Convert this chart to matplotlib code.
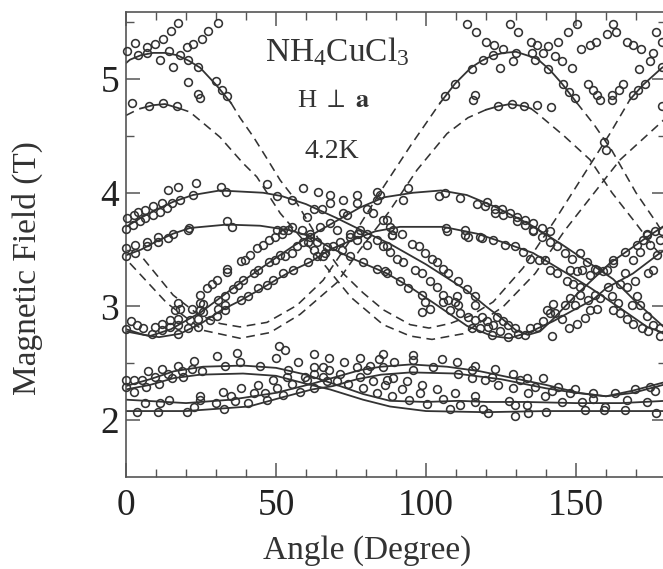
"""
Redraw of the NH4CuCl3 resonance field plot, magnetic field against angle.
Values are read off the picture by eye.
"""
import matplotlib

matplotlib.use("Agg")
import matplotlib.pyplot as plt

INK = "#333333"

# Measured points, (angle, field)
top_points = [
    (0.2, 5.25), (3, 5.32), (6.9, 5.28), (9.7, 5.31), (12.2, 5.35), (15, 5.42), (17.4, 5.49), (4.1, 5.21),
    (6.9, 5.23), (11.3, 5.17), (14.4, 5.25), (18, 5.21), (20.2, 5.28), (22.4, 5.31), (25.2, 5.35), (27.4, 5.42),
    (30.8, 5.49), (15.6, 5.11), (20.6, 5.17), (24.1, 5.11), (20.6, 4.97), (24.1, 4.87), (24.7, 4.83), (30, 4.98),
    (31.9, 4.90), (33.6, 4.85), (1.9, 4.79), (7.5, 4.76), (12.2, 4.79), (16.9, 4.76),
    (113.6, 5.48), (116.7, 5.41), (120, 5.33), (122.8, 5.30), (125.6, 5.26), (122.2, 5.21), (119.1, 5.17),
    (115.2, 5.09), (109.7, 4.96), (106.3, 4.85), (116.3, 4.86), (115.8, 4.82), (124.7, 5.10), (128.9, 5.16),
    (130, 5.23), (128, 5.48), (130.8, 5.41), (134.9, 5.33), (137.1, 5.30), (135.2, 5.23), (138.9, 5.23),
    (140.8, 5.29), (143.9, 5.33), (147.2, 5.41), (150.2, 5.48), (143, 5.20), (145.2, 5.16), (136.3, 5.17),
    (140.8, 5.09), (148.8, 5.10), (145.6, 4.96), (147.8, 4.89), (149.5, 4.83), (151.7, 5.26), (154.5, 5.30),
    (156.6, 5.33), (160.2, 5.40), (162.4, 5.48), (163.3, 5.41), (166.9, 5.33), (169.1, 5.30), (171.7, 5.26),
    (153.9, 4.96), (155.8, 4.90), (156.9, 4.86), (158, 4.82), (161.9, 4.86), (161.9, 4.82), (164.4, 4.90),
    (165.6, 4.96), (171.1, 5.09), (169.1, 4.86), (170.8, 4.90), (173, 4.96), (174.7, 5.16), (175.8, 5.23),
    (176.7, 5.41), (178.6, 5.33), (178.6, 5.11), (178.6, 4.76), (159.3, 4.45), (160, 4.38),
    (123.9, 4.76), (128.6, 4.78), (132.7, 4.76), (137.1, 4.77), (141.7, 4.75),
]

middle_points = [
    (46.9, 4.08), (50.2, 3.97), (55.2, 3.94), (58.9, 4.04), (64.1, 4.01), (68, 3.98), (72.4, 3.94), (77.1, 3.98),
    (83.6, 4.01), (94.1, 4.04), (92.4, 3.94), (104.4, 3.97), (106.3, 4.0), (111.3, 3.95), (84.7, 3.98), (106.7, 3.69),
    (0.2, 3.78), (2.5, 3.80), (4.1, 3.83), (6.3, 3.85), (9.1, 3.88), (11.9, 3.91), (14.1, 4.02), (17.4, 4.05),
    (18, 3.94), (22.4, 3.98), (23.2, 4.09), (31.7, 4.05), (33.3, 4.01), (0, 3.68), (2.2, 3.72), (4.7, 3.75),
    (6.3, 3.78), (9.1, 3.80), (11.3, 3.83), (13.6, 3.87), (15.2, 3.91),
    (0, 3.51), (0, 3.44), (3, 3.54), (3, 3.47), (6.9, 3.57), (6.9, 3.53), (10.8, 3.61), (10.8, 3.57), (14.1, 3.6),
    (15.8, 3.64), (20.8, 3.67), (33.6, 3.75), (35.2, 3.70), (21, 3.69),
    (58.6, 3.67), (60.2, 3.79), (62.5, 3.86), (65.2, 3.86), (68, 3.91), (72.4, 3.82), (73.6, 3.8), (76.9, 3.91),
    (80.2, 3.86), (83.6, 3.94), (82.4, 3.82), (86.9, 3.76), (50.2, 3.67), (52.4, 3.67), (55.2, 3.7), (61.3, 3.64),
    (64.7, 3.7), (68, 3.73), (70.2, 3.67), (74.7, 3.64), (78, 3.67), (80.2, 3.64),
    (116.9, 3.9), (119.7, 3.88), (120.2, 3.92), (123, 3.86), (123, 3.82), (125.2, 3.86), (125.8, 3.8), (128, 3.82),
    (130.2, 3.79), (130.2, 3.75), (133, 3.76), (133, 3.72), (135.8, 3.73), (135.8, 3.67), (138.6, 3.69),
    (141.3, 3.66), (113, 3.67), (114.1, 3.61), (118, 3.61), (173.6, 3.63), (176.3, 3.66),
    (88, 3.7), (85.8, 3.76), (89.1, 3.67), (91.9, 3.64), (88.6, 3.63),
]

rising_points = [
    (0, 2.8), (1.6, 2.87), (3.6, 2.84), (5.8, 2.81), (8.6, 2.76), (9.7, 2.82), (11.9, 2.85), (11.9, 2.79),
    (14.7, 2.88), (14.7, 2.82), (17.4, 2.76), (17.4, 2.84), (17.4, 2.89), (16.3, 2.97), (17.4, 3.03), (18, 2.98),
    (20.8, 2.81), (21.3, 2.88), (21.9, 2.98), (24.1, 2.82), (24.1, 2.89), (24.7, 2.97), (24.7, 3.03), (25.8, 3.02),
    (24.7, 3.1), (25.8, 2.95), (28, 2.88), (30.2, 2.92), (30.8, 3.06), (33, 3.09), (30.8, 2.98), (33, 3.01), (33, 2.97),
    (26.9, 3.16), (28.6, 3.2), (30.2, 3.23), (33.6, 3.3), (33.6, 3.33), (38.2, 3.4), (39.7, 3.41), (41.3, 3.45),
    (43.6, 3.51), (45.8, 3.54), (47.8, 3.58), (49.7, 3.61), (51.9, 3.64), (54.1, 3.67),
    (35.8, 3.15), (37.4, 3.19), (39.1, 3.23), (42.5, 3.29), (44.1, 3.32), (47.5, 3.39), (49.7, 3.41), (51.4, 3.45),
    (53, 3.44), (55.2, 3.47), (56.9, 3.53), (59.1, 3.57), (61.3, 3.61),
    (38.2, 3.06), (40.8, 3.09), (44.1, 3.16), (46.9, 3.19), (49.1, 3.23), (52.4, 3.29), (55.8, 3.32), (60.8, 3.39),
    (63.6, 3.44), (66.3, 3.47), (69.1, 3.53), (71.3, 3.57), (74.7, 3.61), (77.4, 3.64),
    (134.7, 2.81), (136.9, 2.82), (139.1, 2.87), (140.2, 2.97), (142.4, 3.02), (141.3, 2.94), (143, 2.94),
    (141.9, 2.74), (145.2, 2.89), (147.5, 2.81), (150.2, 2.85), (148, 3.07), (146.3, 3.01), (149.7, 3.01),
    (151.3, 3.1), (153, 2.9), (154.7, 2.97), (156.9, 2.98), (154.1, 3.06), (156.3, 3.1), (158, 3.07),
    (146.9, 3.22), (149.1, 3.2), (151.3, 3.17), (150.2, 3.31), (151.9, 3.32), (154.7, 3.28), (156.9, 3.32),
    (159.1, 3.31), (160.8, 3.17), (160.2, 3.32), (162.4, 3.38), (166.3, 3.29), (169.7, 3.22), (164.7, 3.2),
    (166.9, 3.17), (162.4, 3.41), (166.3, 3.48), (169.1, 3.41), (171.3, 3.48), (170.2, 3.54), (172.4, 3.58),
    (174.7, 3.54), (175.8, 3.32), (174.1, 3.29), (176.9, 3.45), (173.6, 3.64), (178, 3.58), (178.6, 3.66),
]

falling_points = [
    (63.6, 3.57), (66.9, 3.52), (71.9, 3.5), (74.7, 3.44), (79.1, 3.39), (83.6, 3.33), (86.9, 3.29), (62.5, 3.5),
    (65.8, 3.44), (60.8, 3.57), (77, 3.58), (80.2, 3.54), (83.6, 3.58), (86.9, 3.53),
    (88.6, 3.63), (95.2, 3.55), (97.5, 3.53), (99.7, 3.47), (101.9, 3.42), (103.6, 3.39), (105.8, 3.33), (107.4, 3.29),
    (110.8, 3.22), (113.6, 3.15), (116.3, 3.09), (116.3, 3.01),
    (85.8, 3.53), (88, 3.48), (90.2, 3.42), (92.4, 3.39), (96.3, 3.32), (98.6, 3.29), (101.3, 3.22), (103.6, 3.17),
    (105.8, 3.1), (107.4, 3.06), (110.2, 3.09), (110.8, 3.01), (105.8, 3.04), (109.7, 3.04),
    (86.3, 3.31), (91.3, 3.22), (94.1, 3.16), (98.6, 3.1), (99.7, 3.04), (101.3, 2.98), (98.6, 2.95), (108, 2.97),
    (111.3, 2.94), (114.1, 2.91), (116.3, 2.88), (118.6, 2.91), (120.2, 2.87), (123.6, 2.91), (125.8, 2.87),
    (127.4, 2.84), (129.7, 2.81), (115.2, 2.81), (118, 2.81), (120.8, 2.82), (122.4, 2.84), (121.9, 2.75),
    (124.7, 2.78), (127.4, 2.73), (133, 2.75), (130.8, 2.76),
    (118.6, 3.6), (122.4, 3.58), (126.3, 3.54), (129.7, 3.53), (132.4, 3.48), (134.7, 3.42), (137.5, 3.41),
    (139.7, 3.41), (141.3, 3.32), (143.6, 3.29), (135.8, 3.66), (138.6, 3.61), (141.3, 3.57), (143.6, 3.53),
    (146.3, 3.47), (148.6, 3.42), (151.3, 3.47), (153.6, 3.39), (156.3, 3.33), (148, 3.32), (113, 3.63), (106.9, 3.66),
    (161.9, 3.09), (164.1, 3.03), (162.4, 2.97), (164.7, 2.94), (166.9, 2.89), (169.1, 2.85), (171.9, 2.81),
    (174.1, 2.78), (178, 2.74), (170.2, 3.09), (171.3, 3.01), (168.6, 3.01), (173.6, 2.92), (175.8, 2.84), (178, 2.81),
]

low_points = [
    (0, 2.35), (0, 2.29), (2.7, 2.25), (2.5, 2.35), (5.2, 2.35), (6.7, 2.29), (7.4, 2.43), (9.7, 2.38), (11.1, 2.32),
    (11.9, 2.45), (14.1, 2.41), (15.2, 2.37), (17.4, 2.48), (18.6, 2.43), (18.9, 2.38), (22.7, 2.52), (21.9, 2.45),
    (25.2, 2.43), (30.2, 2.56), (33, 2.48), (36.9, 2.59), (38, 2.51), (44.7, 2.48), (50, 2.55), (51.1, 2.65),
    (53, 2.62), (57.2, 2.51), (62.7, 2.58), (67.7, 2.55), (72.8, 2.51), (78, 2.55), (84.4, 2.54), (85.8, 2.58),
    (54.1, 2.44), (53.6, 2.38), (55.2, 2.32), (49.1, 2.35), (50.2, 2.28), (52.4, 2.22), (58, 2.25), (62.7, 2.28),
    (59.7, 2.38), (62.5, 2.47), (65.8, 2.47), (67.5, 2.44), (62.5, 2.41), (65.8, 2.38), (60.2, 2.35), (71.3, 2.41),
    (66.9, 2.34), (70.2, 2.34), (74.1, 2.32), (78, 2.38), (76.9, 2.47), (81.3, 2.48), (80.2, 2.44), (82.4, 2.34),
    (79.1, 2.28), (83.6, 2.24), (86.9, 2.35), (85.8, 2.47),
    (3.8, 2.07), (6.3, 2.15), (11.3, 2.15), (10.8, 2.07), (14.4, 2.18), (20.4, 2.07), (22.7, 2.12), (24.7, 2.21),
    (24.7, 2.18), (30, 2.15), (32.8, 2.1), (32.2, 2.25), (34.9, 2.21), (36.4, 2.17), (38.4, 2.28), (40.8, 2.15),
    (42.5, 2.24), (44.1, 2.31), (46.3, 2.24), (46.9, 2.18),
    (95.8, 2.57), (95.8, 2.53), (89.3, 2.51), (105.4, 2.54), (110.2, 2.51), (102.4, 2.47), (95.8, 2.44), (89.1, 2.37),
    (116.3, 2.48), (115.2, 2.44), (115.2, 2.37), (110.8, 2.41), (123, 2.45), (121.9, 2.38), (119.7, 2.35),
    (129.1, 2.41), (133.6, 2.37), (131.3, 2.35), (138.9, 2.37), (124.1, 2.31), (129.1, 2.28), (133.9, 2.24),
    (136.3, 2.29), (141.9, 2.26), (144.1, 2.29), (139.7, 2.21), (149.7, 2.27), (148, 2.24), (145.2, 2.16),
    (155.8, 2.24), (155.8, 2.19), (151.9, 2.16), (153, 2.09), (159.7, 2.12), (159.3, 2.09), (163, 2.24),
    (166.9, 2.18), (166.3, 2.09), (169.7, 2.27), (173.6, 2.16), (174.7, 2.29), (176.3, 2.26), (176.7, 2.06),
    (86.3, 2.31), (93.6, 2.34), (91.9, 2.27), (98.6, 2.31), (98, 2.24), (103.6, 2.27), (109.7, 2.24), (105.8, 2.19),
    (108, 2.1), (111.3, 2.13), (116.3, 2.21), (116.3, 2.16), (119.1, 2.1), (120.8, 2.06), (88.6, 2.21), (94.4, 2.18),
    (100.2, 2.14), (127.8, 2.17), (129.7, 2.13), (129.7, 2.04), (133.6, 2.13), (134.1, 2.06), (139.9, 2.07),
]

# Theory curves, solid where they were fitted
solid_curves = [
    [(0, 5.14), (1.3, 5.17), (5, 5.21), (9, 5.23), (13, 5.23), (17, 5.21), (21, 5.16), (24.7, 5.10), (30, 4.95), (35, 4.79)],
    [(104.7, 4.79), (109.7, 4.96), (115, 5.10), (118.5, 5.16), (122.4, 5.21), (126, 5.23), (130, 5.24), (137, 5.18),
     (141.3, 5.08), (145.3, 4.96), (150.3, 4.79)],
    [(168, 4.82), (172.4, 4.95), (178.7, 5.1), (180, 5.12)],
    [(4.7, 4.74), (9, 4.77), (13, 4.78), (18, 4.74)],
    [(120, 4.73), (124, 4.76), (128, 4.78), (133, 4.76), (135, 4.74)],
    # rising towards the 3.7 T maximum, then falling to the next minimum
    [(0, 2.8), (6, 2.75), (11, 2.73), (18, 2.76), (25, 2.85), (32, 2.97), (38, 3.05), (44.7, 3.15), (50.4, 3.24),
     (55.7, 3.32), (61.4, 3.39), (68, 3.5), (75, 3.58), (83, 3.66), (91.3, 3.7), (105.7, 3.7), (117, 3.64), (125, 3.57),
     (135.7, 3.47), (147, 3.29), (155, 3.16), (165, 2.98), (173.7, 2.82), (180, 2.76)],
    # rising towards the 4.0 T maximum, then falling
    [(0, 2.78), (8, 2.74), (15, 2.8), (25, 2.95), (35.6, 3.16), (43.6, 3.31), (49, 3.41), (55.7, 3.53), (62, 3.63),
     (70, 3.75), (78, 3.87), (86, 3.96), (95.7, 4.0), (105, 4.02), (113.6, 3.98), (123.6, 3.87), (134.7, 3.72),
     (145, 3.55), (155.7, 3.36), (162.4, 3.24), (170, 3.04), (178, 2.85), (180, 2.8)],
    # 3.7 T maximum on the left, through the minimum at 128, rising again
    [(0, 3.45), (5, 3.5), (10, 3.57), (15.7, 3.64), (21.3, 3.69), (33.6, 3.72), (44.7, 3.71), (54.7, 3.67), (61, 3.62),
     (68, 3.52), (74.7, 3.43), (87, 3.29), (94.7, 3.17), (103.7, 3.01), (113.6, 2.83), (122, 2.74), (127.8, 2.72),
     (135, 2.78), (142.4, 2.87), (150, 2.98), (155.7, 3.06), (160, 3.16), (169, 3.29), (178, 3.47), (180, 3.5)],
    # 4.0 T maximum on the left, through the minimum, rising again
    [(0, 3.7), (5, 3.78), (10, 3.85), (15.7, 3.92), (22.3, 3.98), (31.3, 4.02), (45.7, 4.0), (52, 3.97), (60, 3.9),
     (70, 3.78), (80, 3.65), (88, 3.55), (100, 3.37), (113.6, 3.14), (120, 3.0), (125, 2.9), (130, 2.79), (134, 2.75),
     (138, 2.78), (142, 2.88), (150, 3.1), (161.3, 3.38), (173.7, 3.61), (180, 3.72)],
    # low field group
    [(0, 2.3), (8, 2.36), (16, 2.43), (25.7, 2.47), (39, 2.48), (50, 2.46), (60, 2.4), (68, 2.33), (79, 2.23), (88, 2.17),
     (100, 2.16), (111, 2.17), (120, 2.16), (133, 2.16), (150, 2.15), (165, 2.15), (180, 2.17)],
    [(0, 2.27), (8, 2.31), (16, 2.37), (24.7, 2.40), (39, 2.41), (50, 2.39), (60, 2.32), (68, 2.27), (79, 2.18), (88, 2.12),
     (100, 2.08), (120, 2.07), (140, 2.08), (173.7, 2.08), (180, 2.08)],
    [(0, 2.08), (20, 2.08), (41, 2.12), (52, 2.2), (62, 2.27), (69, 2.3), (77, 2.36), (85, 2.4), (95, 2.42), (110, 2.41),
     (125, 2.36), (140, 2.28), (150, 2.24), (160, 2.21), (169, 2.26), (179, 2.33)],
    [(0, 2.18), (20, 2.15), (35, 2.18), (50, 2.24), (62, 2.32), (70, 2.38), (78, 2.44), (85, 2.47), (95, 2.49), (107, 2.47),
     (118, 2.43), (129, 2.37), (140, 2.31), (151, 2.24), (160, 2.21), (169, 2.24), (179, 2.31)],
]

dashed_curves = [
    [(35, 4.79), (38, 4.66), (42.5, 4.49), (47, 4.3), (51.4, 4.11), (55.8, 3.96), (64, 3.6), (72.4, 3.29), (79, 3.12),
     (85.8, 2.97), (94.7, 2.84), (101, 2.81), (108, 2.85), (115, 2.92), (122.4, 3.04), (132.4, 3.34), (143, 3.76),
     (161.3, 4.52), (168, 4.82)],
    [(0, 4.68), (3, 4.72)],
    [(18, 4.74), (21.3, 4.71), (31.3, 4.49), (39, 4.26), (43.6, 4.14), (51.4, 3.82), (65.7, 3.38), (75, 3.08), (85.7, 2.84),
     (94.7, 2.74), (102, 2.71), (112.4, 2.76), (118, 2.86), (125.8, 3.0), (136.4, 3.29), (146.3, 3.67), (164.7, 4.29),
     (178, 4.61), (180, 4.66)],
    [(5.8, 3.42), (15.7, 3.1), (24, 2.93), (31.3, 2.85), (38, 2.82), (47, 2.86), (57, 3.01), (65.7, 3.23), (74.7, 3.58),
     (85.8, 4.05), (95, 4.42), (104.7, 4.79)],
    [(1.3, 3.38), (13.6, 3.03), (25.7, 2.79), (38, 2.72), (48, 2.77), (58, 2.93), (70.3, 3.21), (78, 3.5), (87.6, 3.83),
     (97, 4.2), (107, 4.52), (114, 4.66), (120, 4.73)],
    [(135, 4.74), (137, 4.7), (146, 4.5), (154.7, 4.29), (162, 4.0), (170, 3.73), (176, 3.52), (180, 3.4)],
    [(150.3, 4.79), (156, 4.6), (162, 4.37), (170, 4.0), (177, 3.73), (180, 3.6)],
]

angle_ticks = [0, 50, 100, 150]
field_ticks = [2, 3, 4, 5]
angle_minor = [10, 20, 30, 40, 60, 70, 80, 90, 110, 120, 130, 140, 160, 170]
field_minor = [2.5, 3.5, 4.5, 5.5]


def main():
    plt.rcParams["font.family"] = ["Liberation Serif", "DejaVu Serif"]
    plt.rcParams["mathtext.default"] = "regular"
    plt.rcParams["mathtext.fontset"] = "stix"

    fig = plt.figure(figsize=(6.63, 5.69), dpi=100)
    # the right hand frame falls just outside the scanned picture
    ax = fig.add_axes([126 / 663, 1 - 477 / 569, 540 / 663, 464.7 / 569])

    for curve in solid_curves:
        ax.plot(*zip(*curve), color=INK, lw=1.3, zorder=2)
    for curve in dashed_curves:
        ax.plot(*zip(*curve), color=INK, lw=1.15, ls=(0, (5.5, 3.5)), zorder=2)

    all_points = top_points + middle_points + rising_points + falling_points + low_points
    ax.plot(*zip(*all_points), ls="none", marker="o", ms=5.6, mfc="none", mec=INK, mew=1.15, zorder=3, clip_on=False)

    ax.set_xlim(0, 180)
    ax.set_ylim(1.5, 5.587)
    ax.set_xticks(angle_ticks)
    ax.set_yticks(field_ticks)
    ax.set_xticks(angle_minor, minor=True)
    ax.set_yticks(field_minor, minor=True)
    ax.tick_params(axis="both", which="major", direction="in", top=True, right=True, length=10, width=1.1,
                   color="#555555", labelcolor="#222222", labelsize=27)
    ax.tick_params(axis="both", which="minor", direction="in", top=True, right=True, length=5.5, width=1.0,
                   color="#555555")
    ax.tick_params(axis="x", which="major", pad=8)
    ax.tick_params(axis="y", which="major", pad=5)
    for spine in ax.spines.values():
        spine.set_color("#555555")
        spine.set_linewidth(1.2)

    fig.text(367 / 663, 1 - 551 / 569, "Angle (Degree)", ha="center", va="center", fontsize=24, color="#333333")
    fig.text(27 / 663, 1 - 268 / 569, "Magnetic Field (T)", ha="center", va="center", rotation=90, fontsize=24,
             color="#333333")

    fig.text(337 / 663, 1 - 52 / 569, "NH$_4$CuCl$_3$", ha="center", va="center", fontsize=24, color="#333333")
    fig.text(334 / 663, 1 - 101 / 569, r"H $\perp$ $\mathbf{a}$", ha="center", va="center", fontsize=19, color="#333333")
    fig.text(332 / 663, 1 - 151 / 569, "4.2K", ha="center", va="center", fontsize=20, color="#333333")

    fig.savefig("out.png", dpi=100)


if __name__ == "__main__":
    main()
